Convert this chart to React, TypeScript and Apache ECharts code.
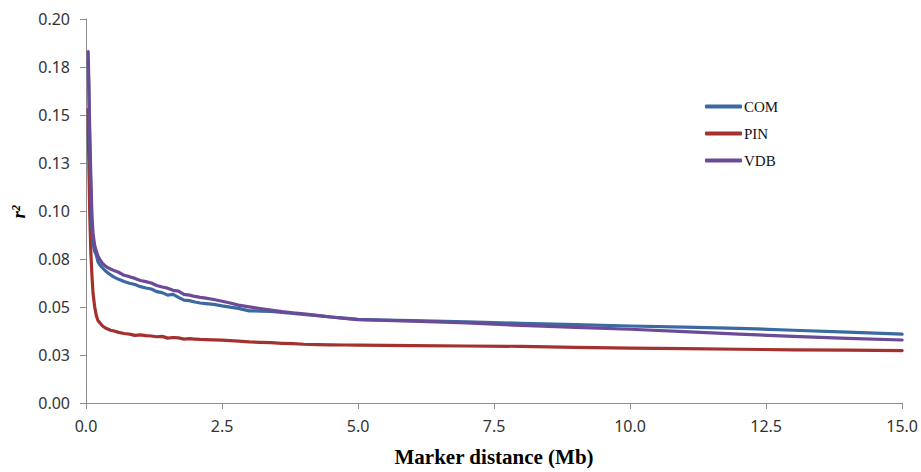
import React, { useEffect, useRef } from "react";
import * as echarts from "echarts";

const distances = [
  0.04, 0.05, 0.07, 0.09, 0.11, 0.13, 0.16, 0.19, 0.22, 0.26, 0.3, 0.35, 0.4, 0.45, 0.5,
  0.6, 0.7, 0.8, 0.9, 1.0, 1.1, 1.2, 1.3, 1.4, 1.5, 1.6, 1.7, 1.8, 1.9, 2.0, 2.1, 2.2,
  2.35, 2.5, 2.65, 2.8, 3.0, 3.2, 3.4, 3.6, 3.8, 4.0, 4.25, 4.5, 4.75, 5.0, 5.5, 6.0,
  7.0, 8.0, 9.0, 10.0, 11.0, 12.0, 13.0, 14.0, 15.0,
];

const comValues = [
  0.178, 0.165, 0.133, 0.108, 0.091, 0.083, 0.079, 0.077, 0.0735, 0.0718, 0.0705, 0.069,
  0.0678, 0.0668, 0.0658, 0.0644, 0.0633, 0.0624, 0.0617, 0.0606, 0.0599, 0.0594, 0.058,
  0.0575, 0.0562, 0.0566, 0.055, 0.0536, 0.0533, 0.0526, 0.0521, 0.0518, 0.0514, 0.0506,
  0.0499, 0.0493, 0.048, 0.0479, 0.0477, 0.0472, 0.0466, 0.0461, 0.0455, 0.0448, 0.0442,
  0.0436, 0.0432, 0.0429, 0.0423, 0.0415, 0.0408, 0.0401, 0.0395, 0.0389, 0.0379, 0.0369,
  0.0359,
];

const pinValues = [
  0.153, 0.128, 0.097, 0.078, 0.066, 0.057, 0.05, 0.0455, 0.043, 0.0415, 0.0402, 0.0392,
  0.0385, 0.0379, 0.0376, 0.0368, 0.0362, 0.0359, 0.0352, 0.0355, 0.0351, 0.0349, 0.0345,
  0.0347, 0.0338, 0.0341, 0.0339, 0.0333, 0.0335, 0.0333, 0.0331, 0.033, 0.0329, 0.0327,
  0.0325, 0.0322, 0.0318, 0.0316, 0.0314, 0.0311, 0.0309, 0.0306, 0.0304, 0.0303, 0.0302,
  0.0301, 0.03, 0.0299, 0.0297, 0.0295, 0.029, 0.0286, 0.0283, 0.028, 0.0277, 0.0275,
  0.0273,
];

const vdbValues = [
  0.183, 0.17, 0.14, 0.117, 0.097, 0.088, 0.082, 0.079, 0.0765, 0.0745, 0.0728, 0.0715,
  0.0705, 0.0698, 0.0692, 0.0681, 0.0665, 0.0658, 0.0649, 0.0638, 0.0632, 0.0625, 0.0612,
  0.0604, 0.0598, 0.0587, 0.0583, 0.0566, 0.0562, 0.0555, 0.055, 0.0546, 0.0539, 0.053,
  0.0521, 0.051, 0.0501, 0.0492, 0.0484, 0.0476, 0.047, 0.0464, 0.0456, 0.0448, 0.0441,
  0.0434, 0.043, 0.0426, 0.0417, 0.0404, 0.0394, 0.0384, 0.0372, 0.0359, 0.0347, 0.0337,
  0.0328,
];

const seriesNames = ["COM", "PIN", "VDB"];
const seriesColors = ["#3b6aa3", "#a3322f", "#6b4b98"];
const yTickLabels = ["0.00", "0.03", "0.05", "0.08", "0.10", "0.13", "0.15", "0.18", "0.20"];
const xTickLabels = ["0.0", "2.5", "5.0", "7.5", "10.0", "12.5", "15.0"];

export default function App() {
  const ref = useRef<HTMLDivElement>(null);
  useEffect(() => {
    if (!ref.current) return;
    const chart = echarts.init(ref.current, undefined, { renderer: "svg" });
    const allValues = [comValues, pinValues, vdbValues];
    const axisFont = { fontFamily: "Noto Sans", fontSize: 16, color: "#333333" };
    chart.setOption({
      animation: false,
      backgroundColor: "#ffffff",
      grid: { left: 86, right: 17, top: 19, bottom: 64, containLabel: false },
      legend: {
        orient: "vertical",
        left: 700,
        top: 94,
        itemWidth: 37,
        itemHeight: 4,
        itemGap: 12,
        icon: "roundRect",
        data: seriesNames,
        textStyle: { fontFamily: "Liberation Serif", fontSize: 15, color: "#111111", padding: [0, 0, 0, -3] },
      },
      xAxis: {
        type: "value",
        min: 0,
        max: 15,
        interval: 2.5,
        name: "Marker distance (Mb)",
        nameLocation: "middle",
        nameGap: 43,
        nameTextStyle: { fontFamily: "Liberation Serif", fontWeight: "bold", fontSize: 21, color: "#000000" },
        axisLine: { show: true, lineStyle: { color: "#8c8c8c", width: 1 } },
        axisTick: { show: true, length: 6, lineStyle: { color: "#8c8c8c" } },
        axisLabel: {
          ...axisFont,
          margin: 15,
          formatter: (v: number) => xTickLabels[Math.round(v / 2.5)] ?? "",
        },
        splitLine: { show: false },
      },
      yAxis: {
        type: "value",
        min: 0,
        max: 0.2,
        interval: 0.025,
        axisLine: { show: true, lineStyle: { color: "#8c8c8c", width: 1 } },
        axisTick: { show: true, length: 6, lineStyle: { color: "#8c8c8c" } },
        axisLabel: {
          ...axisFont,
          margin: 16,
          formatter: (v: number) => yTickLabels[Math.round(v / 0.025)] ?? "",
        },
        splitLine: { show: false },
      },
      graphic: [
        {
          type: "text",
          x: 18,
          y: 212,
          rotation: Math.PI / 2,
          style: {
            text: "r²",
            font: "italic bold 19px 'Liberation Serif'",
            fill: "#000000",
            textAlign: "center",
            textVerticalAlign: "middle",
          },
        },
      ],
      series: seriesNames.map((name, i) => ({
        name,
        type: "line",
        data: distances.map((d, j) => [d, allValues[i][j]]),
        showSymbol: false,
        symbol: "none",
        smooth: false,
        color: seriesColors[i],
        lineStyle: { width: 3.2, color: seriesColors[i], cap: "round", join: "round" },
        z: i === 2 ? 3 : i === 0 ? 2 : 1,
      })),
    });
    return () => chart.dispose();
  }, []);
  return (
    <div
      ref={ref}
      style={{ position: "fixed", left: 0, top: 0, width: 921, height: 472 }}
    />
  );
}
